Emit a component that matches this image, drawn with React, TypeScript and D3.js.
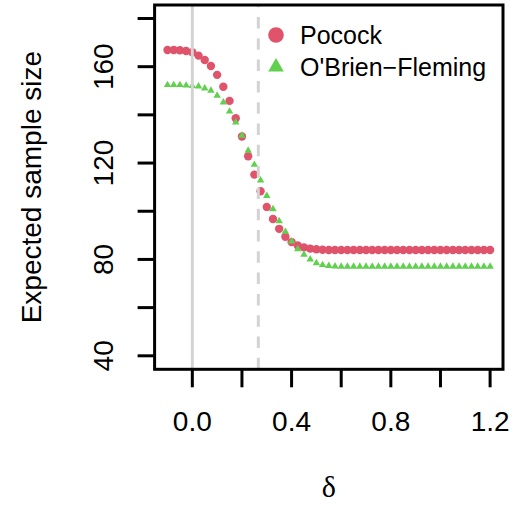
import React from "react";
import * as d3 from "d3";

const delta = [
  -0.1, -0.075, -0.05, -0.025, 0, 0.025, 0.05, 0.075, 0.1, 0.125, 0.15, 0.175, 0.2,
  0.225, 0.25, 0.275, 0.3, 0.325, 0.35, 0.375, 0.4, 0.425, 0.45, 0.475, 0.5, 0.525,
  0.55, 0.575, 0.6, 0.625, 0.65, 0.675, 0.7, 0.725, 0.75, 0.775, 0.8, 0.825, 0.85,
  0.875, 0.9, 0.925, 0.95, 0.975, 1.0, 1.025, 1.05, 1.075, 1.1, 1.125, 1.15, 1.175, 1.2,
];

const pocock = [
  166.9, 166.9, 166.8, 166.5, 166.0, 164.6, 162.8, 160.3, 156.6, 151.7, 145.8, 138.6, 131.0,
  122.8, 115.2, 108.3, 101.8, 96.8, 92.7, 89.4, 87.2, 85.8, 85.0, 84.5, 84.2, 84.0,
  83.9, 83.9, 83.9, 83.9, 83.9, 83.9, 83.9, 83.9, 83.9, 83.9, 83.9, 83.9, 83.9,
  83.9, 83.9, 83.9, 83.9, 83.9, 83.9, 83.9, 83.9, 83.9, 83.9, 83.9, 83.9, 83.9, 83.9,
];

const obrienFleming = [
  152.7, 152.7, 152.7, 152.5, 152.3, 152.1, 151.3, 150.4, 148.3, 145.5, 141.7, 137.2, 131.7,
  125.5, 119.6, 113.1, 106.7, 101.2, 96.2, 91.8, 87.8, 84.6, 82.3, 80.3, 78.8, 78.0,
  77.6, 77.4, 77.3, 77.3, 77.3, 77.3, 77.3, 77.3, 77.3, 77.3, 77.3, 77.3, 77.3,
  77.3, 77.3, 77.3, 77.3, 77.3, 77.3, 77.3, 77.3, 77.3, 77.3, 77.3, 77.3, 77.3, 77.3,
];

const xTicks = [0, 0.2, 0.4, 0.6, 0.8, 1.0, 1.2];
const xTickLabels = ["0.0", "", "0.4", "", "0.8", "", "1.2"];
const yTicks = [40, 60, 80, 100, 120, 140, 160, 180];
const yTickLabels = ["40", "", "80", "", "120", "", "160", ""];
const solidRef = 0;
const dashedRef = 0.266;
const seriesNames = ["Pocock", "O'Brien\u2212Fleming"];

const W = 530;
const H = 506;
const left = 154.6;
const right = 503;
const top = 5;
const bottom = 369.3;

const RED = "#DF536B";
const GREEN = "#61D04F";
const GRAY = "#D3D3D3";
const SANS = "'Liberation Sans', Arial, Helvetica, sans-serif";

export default function App() {
  const x = d3.scaleLinear().domain([-0.152, 1.252]).range([left, right]);
  const y = d3.scaleLinear().domain([34.4, 185.6]).range([bottom, top]);
  const tri = d3.symbol().type(d3.symbolTriangle).size(24)();
  const triLegend = d3.symbol().type(d3.symbolTriangle).size(105)();

  return (
    <svg
      width={W}
      height={H}
      style={{ position: "absolute", left: 0, top: 0, background: "#fff" }}
      fontFamily={SANS}
    >
      <defs>
        <clipPath id="plotClip">
          <rect x={left} y={top} width={right - left} height={bottom - top} />
        </clipPath>
      </defs>

      {/* points */}
      <g>
        {delta.map((d, i) => (
          <circle key={"p" + i} cx={x(d)} cy={y(pocock[i])} r={4.2} fill={RED} />
        ))}
        {delta.map((d, i) => (
          <path
            key={"o" + i}
            d={tri as string}
            transform={`translate(${x(d)},${y(obrienFleming[i]) + 0.7})`}
            fill={GREEN}
          />
        ))}
      </g>

      {/* reference lines */}
      <g clipPath="url(#plotClip)">
        <line x1={x(solidRef)} x2={x(solidRef)} y1={top} y2={bottom} stroke={GRAY} strokeWidth={3} />
        <line
          x1={x(dashedRef)}
          x2={x(dashedRef)}
          y1={bottom}
          y2={top}
          stroke={GRAY}
          strokeWidth={3}
          strokeDasharray="11.5,9.8"
        />
      </g>

      {/* box */}
      <rect
        x={left}
        y={top}
        width={right - left}
        height={bottom - top}
        fill="none"
        stroke="#000"
        strokeWidth={3}
      />

      {/* y axis */}
      <g>
        {yTicks.map((t, i) => (
          <g key={"yt" + i}>
            <line x1={left - 17} x2={left} y1={y(t)} y2={y(t)} stroke="#000" strokeWidth={3} />
            {yTickLabels[i] && (
              <text
                transform={`translate(113.3,${y(t)}) rotate(-90)`}
                textAnchor="middle"
                fontSize={28}
                fill="#000"
              >
                {yTickLabels[i]}
              </text>
            )}
          </g>
        ))}
        <text
          transform={`translate(41,${(top + bottom) / 2}) rotate(-90)`}
          textAnchor="middle"
          fontSize={28}
          fill="#000"
        >
          Expected sample size
        </text>
      </g>

      {/* x axis */}
      <g>
        {xTicks.map((t, i) => (
          <g key={"xt" + i}>
            <line x1={x(t)} x2={x(t)} y1={bottom} y2={bottom + 18} stroke="#000" strokeWidth={3} />
            {xTickLabels[i] && (
              <text x={x(t)} y={431} textAnchor="middle" fontSize={28} fill="#000">
                {xTickLabels[i]}
              </text>
            )}
          </g>
        ))}
        <text
          x={(left + right) / 2}
          y={497}
          textAnchor="middle"
          fontSize={30}
          fontFamily="'Liberation Serif', 'Times New Roman', serif"
          fill="#000"
        >
          δ
        </text>
      </g>

      {/* legend */}
      <g>
        <circle cx={276} cy={35} r={7.8} fill={RED} />
        <path d={triLegend as string} transform="translate(276,67)" fill={GREEN} />
        <text x={300} y={44} fontSize={25} fill="#000">
          {seriesNames[0]}
        </text>
        <text x={300} y={76} fontSize={25} fill="#000">
          {seriesNames[1]}
        </text>
      </g>
    </svg>
  );
}
